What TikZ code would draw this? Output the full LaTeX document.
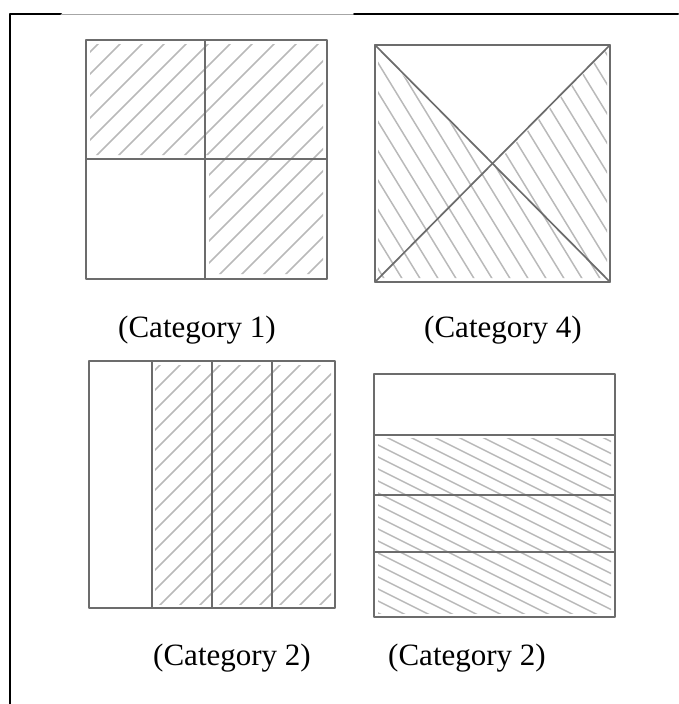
\documentclass[tikz,border=0pt]{standalone}
\usepackage{fontspec}
\setmainfont{Liberation Serif}
\begin{document}
\begin{tikzpicture}[x=1pt, y=-1pt, line cap=round, line join=round,
  frame/.style={black, line width=2pt},
  box/.style={gray!85!black, line width=1.7pt},
  hatch/.style={gray!55, line width=1.5pt},
  caption/.style={font=\fontsize{31}{36}\selectfont, inner sep=0pt}]
  \useasboundingbox (0,0) rectangle (678,704);
  % frame
  \draw[frame] (10,704) -- (10,14) -- (61,14);
  \draw[gray!70, line width=1pt] (61,14) -- (354,14);
  \draw[frame] (354,14) -- (678,14);

  % category 1: quarters
  \begin{scope}
    \clip (90,44) -- (323,44) -- (323,274) -- (209,274) -- (209,155) -- (90,155) -- cycle;
    \foreach \a in {-170,-148,...,330}
      \draw[hatch] (\a,290) -- ++(250,-250);
  \end{scope}
  \draw[box] (86,40) rectangle (327,279);
  \draw[box] (205,40) -- (205,279);
  \draw[box] (86,159) -- (327,159);
  \node[caption] (cat1) at (197,330) {(Category 1)};

  % category 4: triangles
  \begin{scope}
    \clip (378,50) -- (493,166) -- (607,50) -- (607,278) -- (378,278) -- cycle;
    \foreach \a in {220,238,...,620}
      \draw[hatch] (\a,40) -- ++(150,245);
  \end{scope}
  \draw[box] (375,45) rectangle (610,282);
  \draw[box] (375,45) -- (610,282);
  \draw[box] (610,45) -- (375,282);
  \node[caption] (cat4) at (503,330) {(Category 4)};

  % category 2: vertical strips
  \begin{scope}
    \clip (155,365) rectangle (331,604);
    \foreach \a in {-110,-90,...,340}
      \draw[hatch] (\a,615) -- ++(270,-270);
  \end{scope}
  \draw[box] (89,361) rectangle (335,608);
  \foreach \x in {152,212,272}
    \draw[box] (\x,361) -- (\x,608);
  \node[caption] (cat2a) at (232,658) {(Category 2)};

  % category 2: horizontal strips
  \begin{scope}
    \clip (378,438) rectangle (611,613);
    \foreach \a in {-80,-56,...,620}
      \draw[hatch] (\a,420) -- ++(440,220);
  \end{scope}
  \draw[box] (374,374) rectangle (615,617);
  \foreach \y in {435,495,552}
    \draw[box] (374,\y) -- (615,\y);
  \node[caption] (cat2b) at (467,658) {(Category 2)};
\end{tikzpicture}
\end{document}
